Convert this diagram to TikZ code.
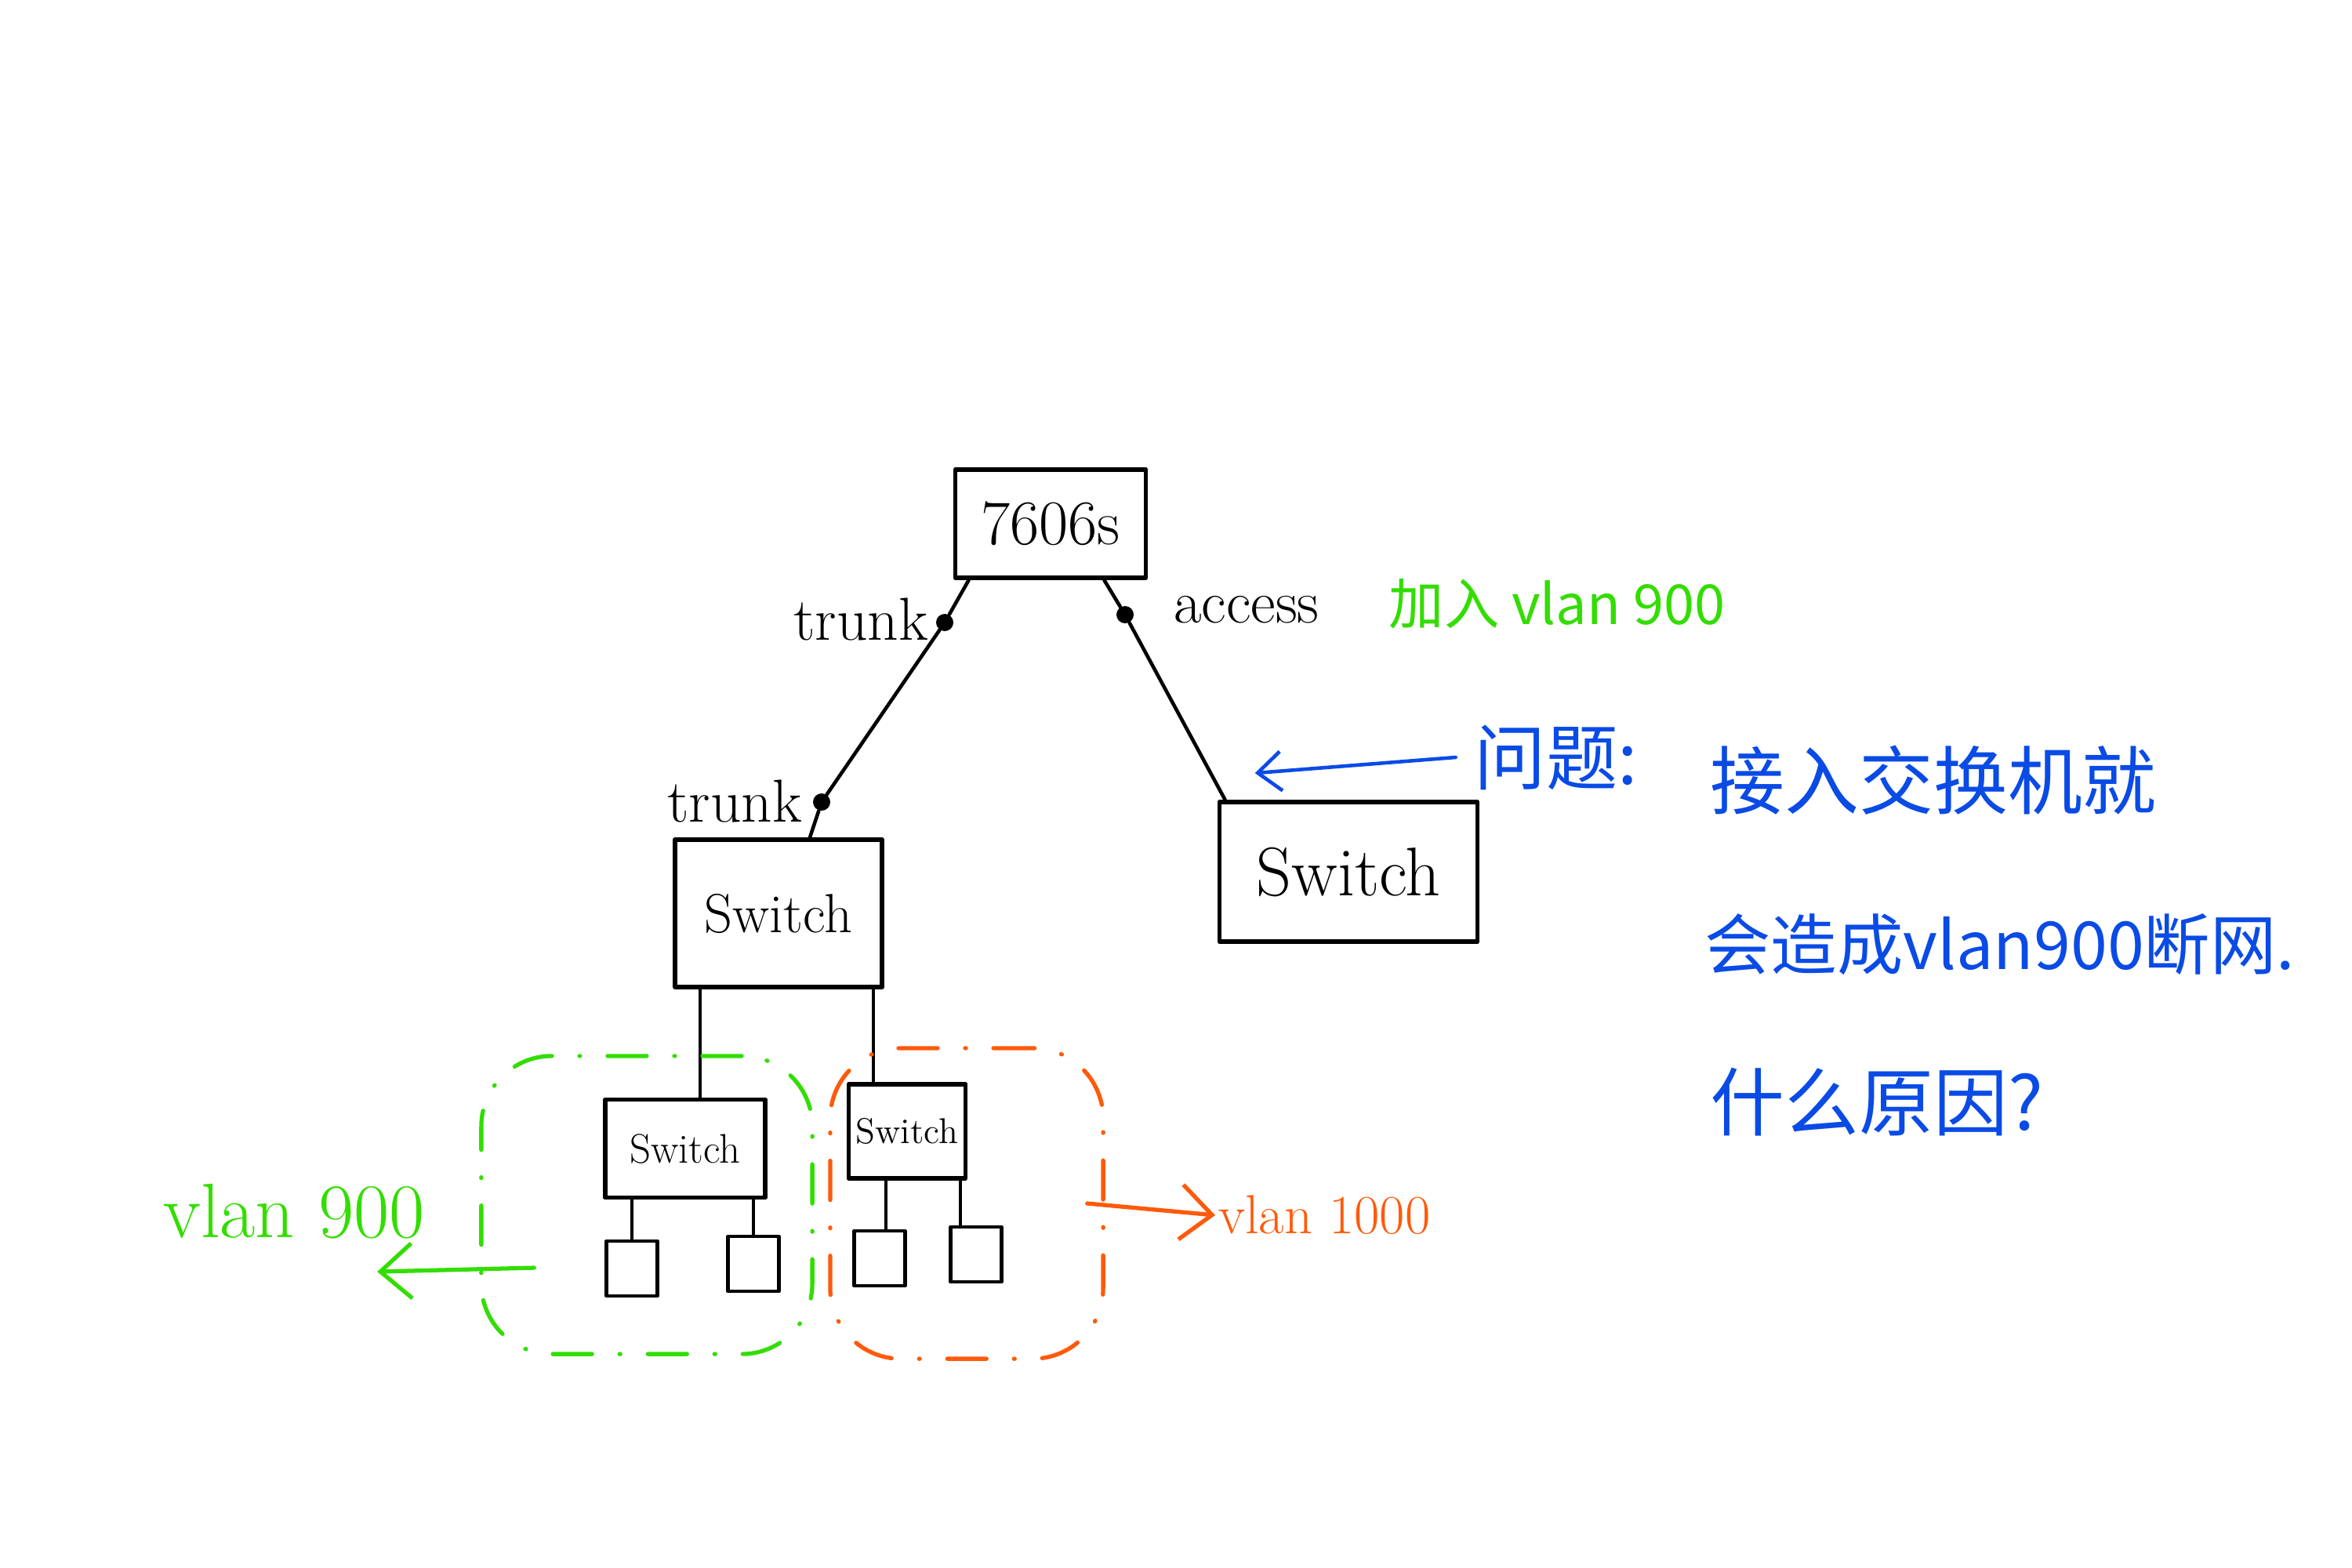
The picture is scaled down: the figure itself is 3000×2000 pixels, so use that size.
\documentclass[tikz,border=0pt]{standalone}
\usepackage{fontspec}
\newfontfamily\cjk{Noto Sans CJK SC}
\usetikzlibrary{arrows.meta}
\definecolor{vgreen}{HTML}{33DD00}
\definecolor{vorange}{HTML}{FF5A0A}
\definecolor{qblue}{HTML}{0A4BE6}

\begin{document}
\begin{tikzpicture}[x=0.01cm,y=-0.01cm,line cap=round,line join=round,
  box/.style={draw,line width=1.6pt,inner sep=0pt},
  host/.style={draw,line width=1.3pt,minimum width=6.5mm,minimum height=7mm,inner sep=0pt},
  wire/.style={line width=1.3pt},
  thinwire/.style={line width=0.9pt},
  port/.style={circle,fill,inner sep=0pt,minimum size=2.2mm},
  lbl/.style={inner sep=1pt,font=\fontsize{22}{24}\selectfont},
  grp/.style={draw,line width=1.5pt,rounded corners=9mm,inner sep=0pt,
    dash pattern=on 5mm off 3.5mm on 0.1mm off 3.5mm},
  barb/.style={-{Straight Barb[length=4mm,width=7mm,line width=1.5pt]}}]
  \useasboundingbox (0,0) rectangle (3000,2000);

  \node[box,minimum width=2.43cm,minimum height=1.38cm,font=\fontsize{23}{25}\selectfont] (core) at (1340,668) {7606s};
  \node[box,minimum width=2.64cm,minimum height=1.88cm,font=\fontsize{20}{22}\selectfont] (swL) at (993,1165) {Switch};
  \node[box,minimum width=3.29cm,minimum height=1.78cm,font=\fontsize{25}{27}\selectfont] (swR) at (1720,1112) {Switch};
  \node[box,minimum width=2.04cm,minimum height=1.25cm,font=\fontsize{15}{17}\selectfont] (smL) at (874,1465) {Switch};
  \node[box,minimum width=1.49cm,minimum height=1.2cm,font=\fontsize{13}{15}\selectfont] (smR) at (1157,1443) {Switch};

  \node[host] (h1) at (806,1618) {};
  \node[host] (h2) at (961,1612) {};
  \node[host] (h3) at (1122,1605) {};
  \node[host] (h4) at (1245,1600) {};

  \node[port] (p1) at (1205,794) {};
  \node[port] (p2) at (1048,1023) {};
  \node[port] (p3) at (1435,784) {};

  \draw[wire] ([xshift=2mm]core.south west) -- (p1) -- (p2) -- ([xshift=4mm]swL.north);
  \draw[wire] ([xshift=-5.6mm]core.south east) -- (p3) -- ([xshift=1mm]swR.north west);

  \draw[thinwire] ([xshift=1.9mm]smL.north) -- ([xshift=1.9mm]smL.north |- swL.south);
  \draw[thinwire] ([xshift=-4.3mm]smR.north) -- ([xshift=-4.3mm]smR.north |- swL.south);
  \draw[thinwire] (h1.north) -- (h1.north |- smL.south);
  \draw[thinwire] (h2.north) -- (h2.north |- smL.south);
  \draw[thinwire] ([xshift=0.8mm]h3.north) -- ([xshift=0.8mm]h3.north |- smR.south);
  \draw[thinwire] ([xshift=-2mm]h4.north) -- ([xshift=-2mm]h4.north |- smR.south);

  \node[lbl] (trunkA) at (1098,790) {trunk};
  \node[lbl] (trunkB) at (937,1022) {trunk};
  \node[lbl] (access) at (1590,778) {access};
  \node[lbl,text=vgreen,font=\cjk\fontsize{20}{22}\selectfont] (join) at (1986,770) {加入 vlan 900};

  \node[grp,vgreen,minimum width=4.22cm,minimum height=3.8cm] (g900) at (825,1537) {};
  \node[grp,vorange,minimum width=3.48cm,minimum height=3.96cm] (g1000) at (1233,1535) {};

  \node[lbl,text=vgreen,font=\fontsize{28}{30}\selectfont] (l900) at (375,1545) {vlan 900};
  \node[lbl,text=vorange,font=\fontsize{20}{22}\selectfont,anchor=west] (l1000) at (1550,1550) {vlan 1000};
  \draw[vgreen,line width=1.5pt,barb] ([shift={(0.7cm,-0.8cm)}]g900.west) -- ([shift={(-1.3cm,-0.85cm)}]g900.west);
  \draw[vorange,line width=1.5pt,barb] ([xshift=-2.3mm]g1000.east) -- (l1000.west);

  \node[lbl,text=qblue,font=\cjk\fontsize{26}{28}\selectfont] (q) at (1985,966) {问题:};
  \node[lbl,text=qblue,font=\cjk\fontsize{27}{29}\selectfont,anchor=west] (q1) at (2177,995) {接入交换机就};
  \node[lbl,text=qblue,font=\cjk\fontsize{24}{26}\selectfont,anchor=west] (q2) at (2170,1205) {会造成vlan900断网.};
  \node[lbl,text=qblue,font=\cjk\fontsize{27}{29}\selectfont,anchor=west] (q3) at (2177,1406) {什么原因?};
  \draw[qblue,line width=1.3pt,-{Straight Barb[length=3mm,width=5mm,line width=1.3pt]}] ([xshift=-2mm]q.west) -- ([shift={(0.48cm,0.34cm)}]swR.north west);
\end{tikzpicture}
\end{document}
